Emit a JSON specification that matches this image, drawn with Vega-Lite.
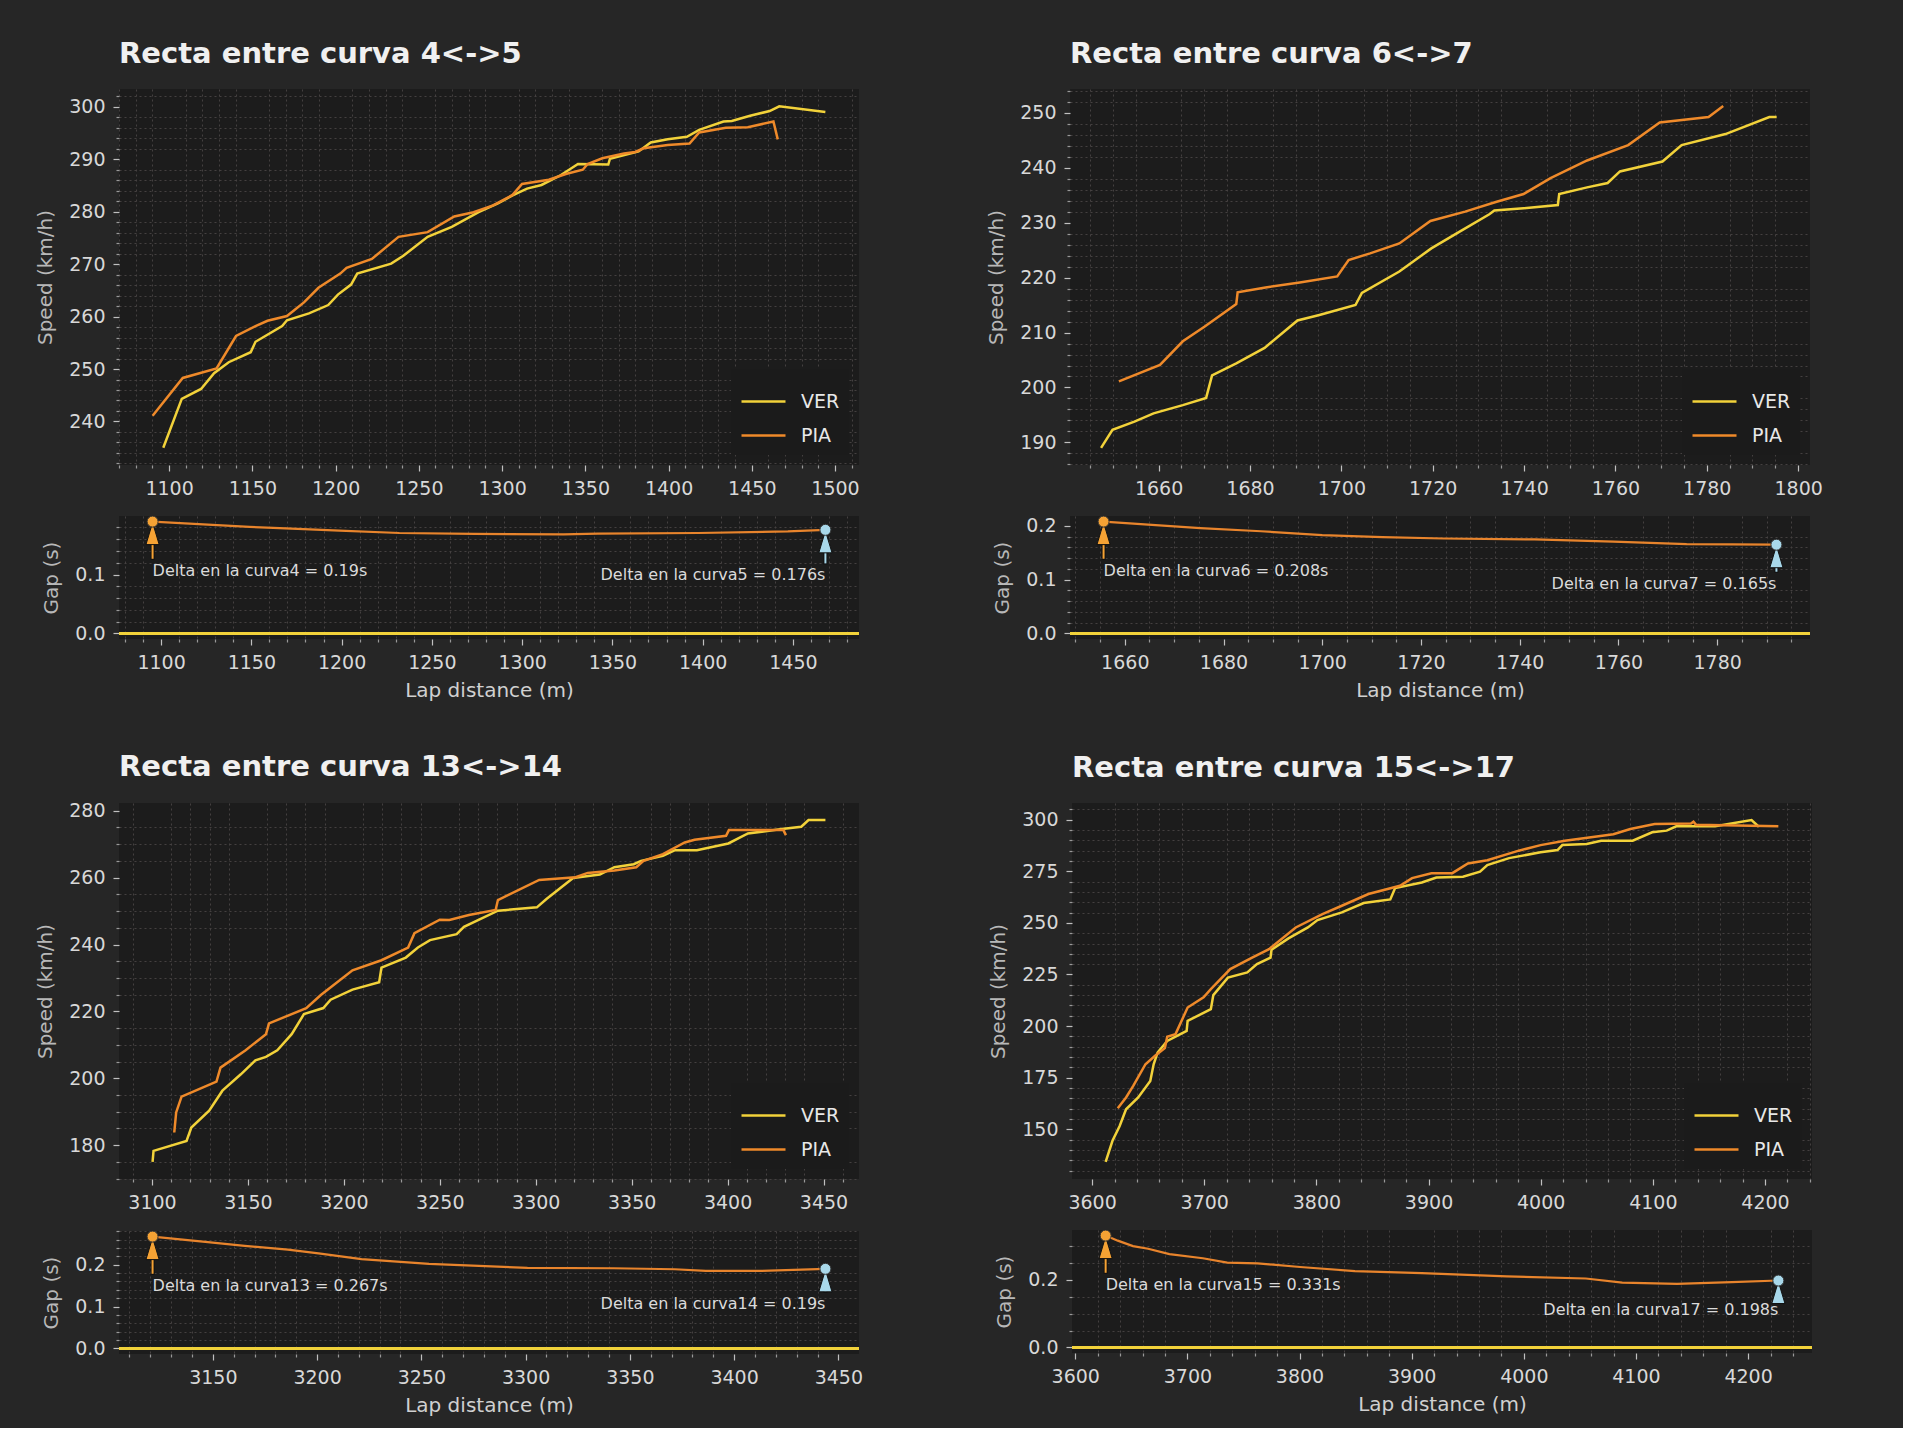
{
"$schema": "https://vega.github.io/schema/vega-lite/v6.json",
"background": "#262626",
"padding": {"left": 35, "top": 40, "right": 80, "bottom": 13},
"config": {
  "font": "DejaVu Sans",
  "view": {"fill": "#1c1c1c", "stroke": null},
  "title": {"font": "DejaVu Sans", "fontSize": 29, "fontWeight": "bold", "color": "#f0f0f0", "anchor": "start", "frame": "group", "offset": 20, "baseline": "alphabetic"},
  "axis": {"labelFont": "DejaVu Sans", "labelFontSize": 19, "labelColor": "#d8d8d8", "titleFont": "DejaVu Sans", "titleFontSize": 20, "titleFontWeight": "normal", "titleColor": "#b8b8b8", "domain": false, "grid": true, "gridColor": "#5a5555", "gridWidth": 1.5, "tickSize": 6, "tickColor": "#c0c0c0", "tickWidth": 1.2, "labelPadding": 8, "titlePadding": 13, "labelOverlap": false},
  "legend": {"orient": "bottom-right", "offset": 10, "padding": 9, "fillColor": "#1b1b1b", "labelFont": "DejaVu Sans", "labelFontSize": 19, "labelColor": "#e8e8e8", "symbolType": "stroke", "symbolStrokeWidth": 2.5, "symbolSize": 1936, "rowPadding": -15, "labelOffset": 14}
},
"datasets": {
  "z": [{"gap": 0}],
  "s1": [
    {"d":1096.5,"speed":235,"driver":"VER"},{"d":1107.6,"speed":244.3,"driver":"VER"},{"d":1119.2,"speed":246.2,"driver":"VER"},{"d":1127,"speed":249.2,"driver":"VER"},{"d":1135.8,"speed":251.3,"driver":"VER"},{"d":1149,"speed":253.2,"driver":"VER"},{"d":1151.9,"speed":255.2,"driver":"VER"},{"d":1167.9,"speed":258.2,"driver":"VER"},{"d":1170.8,"speed":259.3,"driver":"VER"},{"d":1184,"speed":260.6,"driver":"VER"},{"d":1195.6,"speed":262.2,"driver":"VER"},{"d":1201.4,"speed":264.2,"driver":"VER"},{"d":1209.3,"speed":266.1,"driver":"VER"},{"d":1213,"speed":268.2,"driver":"VER"},{"d":1233.4,"speed":270.1,"driver":"VER"},{"d":1240.7,"speed":271.6,"driver":"VER"},{"d":1255.3,"speed":275.2,"driver":"VER"},{"d":1269.8,"speed":277.1,"driver":"VER"},{"d":1285.9,"speed":279.9,"driver":"VER"},{"d":1297.5,"speed":281.6,"driver":"VER"},{"d":1306.3,"speed":283.1,"driver":"VER"},{"d":1315,"speed":284.4,"driver":"VER"},{"d":1323.7,"speed":285.1,"driver":"VER"},{"d":1335.4,"speed":287,"driver":"VER"},{"d":1345.6,"speed":289.1,"driver":"VER"},{"d":1363.8,"speed":289,"driver":"VER"},{"d":1364.8,"speed":290.1,"driver":"VER"},{"d":1382,"speed":291.5,"driver":"VER"},{"d":1389.3,"speed":293.2,"driver":"VER"},{"d":1399.5,"speed":293.8,"driver":"VER"},{"d":1411,"speed":294.3,"driver":"VER"},{"d":1418.4,"speed":295.6,"driver":"VER"},{"d":1433,"speed":297.2,"driver":"VER"},{"d":1438,"speed":297.3,"driver":"VER"},{"d":1449,"speed":298.3,"driver":"VER"},{"d":1460.7,"speed":299.2,"driver":"VER"},{"d":1466.5,"speed":300.1,"driver":"VER"},{"d":1494.2,"speed":299,"driver":"VER"},
    {"d":1090.1,"speed":241.1,"driver":"PIA"},{"d":1108.2,"speed":248.3,"driver":"PIA"},{"d":1128.5,"speed":250.1,"driver":"PIA"},{"d":1140.2,"speed":256.3,"driver":"PIA"},{"d":1151.9,"speed":258.2,"driver":"PIA"},{"d":1159.1,"speed":259.2,"driver":"PIA"},{"d":1170.8,"speed":260.1,"driver":"PIA"},{"d":1181,"speed":262.7,"driver":"PIA"},{"d":1189.7,"speed":265.5,"driver":"PIA"},{"d":1202.8,"speed":268.2,"driver":"PIA"},{"d":1206.6,"speed":269.3,"driver":"PIA"},{"d":1221.8,"speed":271,"driver":"PIA"},{"d":1237.8,"speed":275.2,"driver":"PIA"},{"d":1255.3,"speed":276.1,"driver":"PIA"},{"d":1271.3,"speed":279.1,"driver":"PIA"},{"d":1282.9,"speed":279.9,"driver":"PIA"},{"d":1294.6,"speed":281.2,"driver":"PIA"},{"d":1306.3,"speed":283.2,"driver":"PIA"},{"d":1312,"speed":285.3,"driver":"PIA"},{"d":1328.1,"speed":286.1,"driver":"PIA"},{"d":1338.3,"speed":287.2,"driver":"PIA"},{"d":1348.5,"speed":288,"driver":"PIA"},{"d":1351.4,"speed":289.1,"driver":"PIA"},{"d":1360.2,"speed":290.2,"driver":"PIA"},{"d":1373.3,"speed":291.1,"driver":"PIA"},{"d":1380,"speed":291.4,"driver":"PIA"},{"d":1385,"speed":292.1,"driver":"PIA"},{"d":1399.5,"speed":292.7,"driver":"PIA"},{"d":1412.6,"speed":293,"driver":"PIA"},{"d":1418.4,"speed":295.1,"driver":"PIA"},{"d":1434.4,"speed":296,"driver":"PIA"},{"d":1447.6,"speed":296.1,"driver":"PIA"},{"d":1463,"speed":297.2,"driver":"PIA"},{"d":1465.6,"speed":293.8,"driver":"PIA"}
  ],
  "s2": [
    {"d":1647.4,"speed":189,"driver":"VER"},{"d":1649.9,"speed":192.3,"driver":"VER"},{"d":1654.7,"speed":193.8,"driver":"VER"},{"d":1658.9,"speed":195.3,"driver":"VER"},{"d":1665.3,"speed":196.8,"driver":"VER"},{"d":1670.4,"speed":198.1,"driver":"VER"},{"d":1671.7,"speed":202.2,"driver":"VER"},{"d":1677,"speed":204.4,"driver":"VER"},{"d":1683.2,"speed":207.2,"driver":"VER"},{"d":1690.4,"speed":212.2,"driver":"VER"},{"d":1695.2,"speed":213.2,"driver":"VER"},{"d":1703.1,"speed":215,"driver":"VER"},{"d":1704.5,"speed":217.2,"driver":"VER"},{"d":1712.7,"speed":221.1,"driver":"VER"},{"d":1719.7,"speed":225.3,"driver":"VER"},{"d":1726,"speed":228.4,"driver":"VER"},{"d":1732.4,"speed":231.5,"driver":"VER"},{"d":1733.5,"speed":232.2,"driver":"VER"},{"d":1739.9,"speed":232.6,"driver":"VER"},{"d":1747.4,"speed":233.2,"driver":"VER"},{"d":1747.7,"speed":235.2,"driver":"VER"},{"d":1753.8,"speed":236.4,"driver":"VER"},{"d":1758.3,"speed":237.2,"driver":"VER"},{"d":1761,"speed":239.3,"driver":"VER"},{"d":1770.3,"speed":241.1,"driver":"VER"},{"d":1774.5,"speed":244.1,"driver":"VER"},{"d":1784.1,"speed":246.1,"driver":"VER"},{"d":1793.7,"speed":249.2,"driver":"VER"},{"d":1795.3,"speed":249.2,"driver":"VER"},
    {"d":1651.3,"speed":201.1,"driver":"PIA"},{"d":1660.3,"speed":204.1,"driver":"PIA"},{"d":1665.3,"speed":208.4,"driver":"PIA"},{"d":1670.1,"speed":211.1,"driver":"PIA"},{"d":1677,"speed":215.2,"driver":"PIA"},{"d":1677.3,"speed":217.3,"driver":"PIA"},{"d":1683.4,"speed":218.2,"driver":"PIA"},{"d":1690.9,"speed":219.1,"driver":"PIA"},{"d":1699.1,"speed":220.2,"driver":"PIA"},{"d":1701.6,"speed":223.2,"driver":"PIA"},{"d":1706.3,"speed":224.4,"driver":"PIA"},{"d":1712.7,"speed":226.2,"driver":"PIA"},{"d":1719.5,"speed":230.3,"driver":"PIA"},{"d":1727.1,"speed":232,"driver":"PIA"},{"d":1734,"speed":233.8,"driver":"PIA"},{"d":1739.9,"speed":235.2,"driver":"PIA"},{"d":1745.8,"speed":238.1,"driver":"PIA"},{"d":1753.8,"speed":241.3,"driver":"PIA"},{"d":1762.8,"speed":244.1,"driver":"PIA"},{"d":1769.7,"speed":248.2,"driver":"PIA"},{"d":1780.4,"speed":249.2,"driver":"PIA"},{"d":1783.6,"speed":251.2,"driver":"PIA"}
  ],
  "s3": [
    {"d":3100.3,"speed":175,"driver":"VER"},{"d":3100.8,"speed":178.3,"driver":"VER"},{"d":3118,"speed":181.3,"driver":"VER"},{"d":3120.5,"speed":185.3,"driver":"VER"},{"d":3129.8,"speed":190.3,"driver":"VER"},{"d":3136.7,"speed":196.3,"driver":"VER"},{"d":3146.3,"speed":201.2,"driver":"VER"},{"d":3153.9,"speed":205.4,"driver":"VER"},{"d":3159.4,"speed":206.4,"driver":"VER"},{"d":3165.3,"speed":208.4,"driver":"VER"},{"d":3172.8,"speed":213.2,"driver":"VER"},{"d":3179.2,"speed":219.2,"driver":"VER"},{"d":3189.3,"speed":221,"driver":"VER"},{"d":3193.1,"speed":223.5,"driver":"VER"},{"d":3204.5,"speed":226.5,"driver":"VER"},{"d":3218.4,"speed":228.7,"driver":"VER"},{"d":3219.6,"speed":233.1,"driver":"VER"},{"d":3232.3,"speed":236.1,"driver":"VER"},{"d":3238.6,"speed":239.1,"driver":"VER"},{"d":3244.9,"speed":241.3,"driver":"VER"},{"d":3258.8,"speed":243.1,"driver":"VER"},{"d":3262.6,"speed":245.3,"driver":"VER"},{"d":3280.3,"speed":250.1,"driver":"VER"},{"d":3300.6,"speed":251.1,"driver":"VER"},{"d":3305.6,"speed":253.6,"driver":"VER"},{"d":3319.5,"speed":259.9,"driver":"VER"},{"d":3333.4,"speed":260.9,"driver":"VER"},{"d":3341,"speed":263.1,"driver":"VER"},{"d":3351.1,"speed":264,"driver":"VER"},{"d":3354.9,"speed":265,"driver":"VER"},{"d":3366.3,"speed":266.5,"driver":"VER"},{"d":3372.6,"speed":268.2,"driver":"VER"},{"d":3384,"speed":268.2,"driver":"VER"},{"d":3400.4,"speed":270.2,"driver":"VER"},{"d":3410.6,"speed":273.2,"driver":"VER"},{"d":3428.3,"speed":274.5,"driver":"VER"},{"d":3438.4,"speed":275.2,"driver":"VER"},{"d":3442.2,"speed":277.2,"driver":"VER"},{"d":3451,"speed":277.2,"driver":"VER"},
    {"d":3111.6,"speed":183.8,"driver":"PIA"},{"d":3112.6,"speed":189.8,"driver":"PIA"},{"d":3115.4,"speed":194.5,"driver":"PIA"},{"d":3133.6,"speed":199,"driver":"PIA"},{"d":3135.7,"speed":203.2,"driver":"PIA"},{"d":3148.8,"speed":208.4,"driver":"PIA"},{"d":3159.4,"speed":213.2,"driver":"PIA"},{"d":3161,"speed":216.4,"driver":"PIA"},{"d":3180.4,"speed":221,"driver":"PIA"},{"d":3188,"speed":224.9,"driver":"PIA"},{"d":3204.5,"speed":232.3,"driver":"PIA"},{"d":3219.6,"speed":235.3,"driver":"PIA"},{"d":3233.5,"speed":239.1,"driver":"PIA"},{"d":3236.8,"speed":243.4,"driver":"PIA"},{"d":3250,"speed":247.4,"driver":"PIA"},{"d":3255,"speed":247.3,"driver":"PIA"},{"d":3265.2,"speed":248.8,"driver":"PIA"},{"d":3279.1,"speed":250.3,"driver":"PIA"},{"d":3280.3,"speed":253.3,"driver":"PIA"},{"d":3301.8,"speed":259.3,"driver":"PIA"},{"d":3320.8,"speed":260.1,"driver":"PIA"},{"d":3327.1,"speed":261.4,"driver":"PIA"},{"d":3341,"speed":262.1,"driver":"PIA"},{"d":3352.4,"speed":263.1,"driver":"PIA"},{"d":3356.2,"speed":265,"driver":"PIA"},{"d":3366.3,"speed":267,"driver":"PIA"},{"d":3377.7,"speed":270.5,"driver":"PIA"},{"d":3382.8,"speed":271.3,"driver":"PIA"},{"d":3399.2,"speed":272.5,"driver":"PIA"},{"d":3400.7,"speed":274.2,"driver":"PIA"},{"d":3429.1,"speed":274.2,"driver":"PIA"},{"d":3430.4,"speed":272.7,"driver":"PIA"}
  ],
  "s4": [
    {"d":3612.1,"speed":134.2,"driver":"VER"},{"d":3618.2,"speed":144.4,"driver":"VER"},{"d":3624.6,"speed":151.6,"driver":"VER"},{"d":3630.3,"speed":159.7,"driver":"VER"},{"d":3641.1,"speed":165.4,"driver":"VER"},{"d":3651.9,"speed":173.4,"driver":"VER"},{"d":3654.9,"speed":181.5,"driver":"VER"},{"d":3658.4,"speed":187.2,"driver":"VER"},{"d":3667,"speed":192.8,"driver":"VER"},{"d":3684.3,"speed":197.7,"driver":"VER"},{"d":3685.2,"speed":202.5,"driver":"VER"},{"d":3705.9,"speed":208.2,"driver":"VER"},{"d":3708.1,"speed":215,"driver":"VER"},{"d":3721.1,"speed":223.5,"driver":"VER"},{"d":3738.4,"speed":226,"driver":"VER"},{"d":3747,"speed":230,"driver":"VER"},{"d":3759.1,"speed":233.2,"driver":"VER"},{"d":3760,"speed":237,"driver":"VER"},{"d":3775.1,"speed":242.5,"driver":"VER"},{"d":3792.4,"speed":247.8,"driver":"VER"},{"d":3801,"speed":251.4,"driver":"VER"},{"d":3822.7,"speed":255.1,"driver":"VER"},{"d":3842.2,"speed":259.6,"driver":"VER"},{"d":3865.9,"speed":261.4,"driver":"VER"},{"d":3870.2,"speed":266.9,"driver":"VER"},{"d":3894,"speed":269.6,"driver":"VER"},{"d":3907,"speed":272,"driver":"VER"},{"d":3930.7,"speed":272.4,"driver":"VER"},{"d":3945.9,"speed":274.8,"driver":"VER"},{"d":3952.4,"speed":278,"driver":"VER"},{"d":3971.8,"speed":281.4,"driver":"VER"},{"d":3999.9,"speed":284.2,"driver":"VER"},{"d":4015,"speed":285.3,"driver":"VER"},{"d":4019.3,"speed":287.7,"driver":"VER"},{"d":4041,"speed":288.2,"driver":"VER"},{"d":4053.9,"speed":289.8,"driver":"VER"},{"d":4082,"speed":289.8,"driver":"VER"},{"d":4099.4,"speed":293.9,"driver":"VER"},{"d":4112.3,"speed":294.7,"driver":"VER"},{"d":4120.9,"speed":296.8,"driver":"VER"},{"d":4155.5,"speed":296.8,"driver":"VER"},{"d":4188,"speed":299.8,"driver":"VER"},{"d":4194.5,"speed":296.6,"driver":"VER"},
    {"d":3622.9,"speed":160.2,"driver":"PIA"},{"d":3630.3,"speed":165.4,"driver":"PIA"},{"d":3636.7,"speed":171,"driver":"PIA"},{"d":3647.6,"speed":181.5,"driver":"PIA"},{"d":3656.2,"speed":185.6,"driver":"PIA"},{"d":3664.9,"speed":189.3,"driver":"PIA"},{"d":3667,"speed":194.8,"driver":"PIA"},{"d":3674.4,"speed":196.1,"driver":"PIA"},{"d":3685.2,"speed":209,"driver":"PIA"},{"d":3699.4,"speed":213.9,"driver":"PIA"},{"d":3705.9,"speed":217.9,"driver":"PIA"},{"d":3723.2,"speed":227.6,"driver":"PIA"},{"d":3742.7,"speed":233.2,"driver":"PIA"},{"d":3757.8,"speed":237.3,"driver":"PIA"},{"d":3781.6,"speed":247.8,"driver":"PIA"},{"d":3805.4,"speed":254.3,"driver":"PIA"},{"d":3822.7,"speed":258.3,"driver":"PIA"},{"d":3846.4,"speed":264,"driver":"PIA"},{"d":3874.5,"speed":268,"driver":"PIA"},{"d":3885.3,"speed":271.7,"driver":"PIA"},{"d":3902.6,"speed":274.1,"driver":"PIA"},{"d":3921.2,"speed":274.1,"driver":"PIA"},{"d":3935.1,"speed":278.8,"driver":"PIA"},{"d":3952.4,"speed":280.4,"driver":"PIA"},{"d":3980.5,"speed":285,"driver":"PIA"},{"d":3999.9,"speed":287.7,"driver":"PIA"},{"d":4021.5,"speed":289.8,"driver":"PIA"},{"d":4043.2,"speed":291.4,"driver":"PIA"},{"d":4064.8,"speed":293,"driver":"PIA"},{"d":4079.9,"speed":295.5,"driver":"PIA"},{"d":4101.6,"speed":297.9,"driver":"PIA"},{"d":4134,"speed":298.2,"driver":"PIA"},{"d":4136.2,"speed":299,"driver":"PIA"},{"d":4138.4,"speed":297.6,"driver":"PIA"},{"d":4211.9,"speed":296.8,"driver":"PIA"}
  ],
  "g1": [{"d":1095.3,"gap":0.19},{"d":1149,"gap":0.181},{"d":1165.7,"gap":0.179},{"d":1198.8,"gap":0.1746},{"d":1232,"gap":0.1706},{"d":1273.3,"gap":0.169},{"d":1323,"gap":0.1684},{"d":1342,"gap":0.1695},{"d":1397.5,"gap":0.1706},{"d":1447.2,"gap":0.1734},{"d":1468,"gap":0.176}],
  "g2": [{"d":1655.7,"gap":0.208},{"d":1675.3,"gap":0.196},{"d":1687.6,"gap":0.19},{"d":1700,"gap":0.183},{"d":1712.2,"gap":0.179},{"d":1724.6,"gap":0.1765},{"d":1743,"gap":0.1748},{"d":1759,"gap":0.1706},{"d":1773.8,"gap":0.166},{"d":1792,"gap":0.165}],
  "g3": [{"d":3121.1,"gap":0.267},{"d":3147.6,"gap":0.254},{"d":3165.3,"gap":0.245},{"d":3186,"gap":0.2357},{"d":3200.7,"gap":0.227},{"d":3221.3,"gap":0.213},{"d":3253.7,"gap":0.202},{"d":3300.9,"gap":0.1924},{"d":3342.2,"gap":0.1914},{"d":3371.6,"gap":0.189},{"d":3386.4,"gap":0.185},{"d":3412.9,"gap":0.185},{"d":3443.8,"gap":0.19}],
  "g4": [{"d":3627.1,"gap":0.331},{"d":3637.9,"gap":0.316},{"d":3651.5,"gap":0.3},{"d":3665,"gap":0.292},{"d":3684,"gap":0.276},{"d":3713.8,"gap":0.264},{"d":3735.5,"gap":0.251},{"d":3762.6,"gap":0.249},{"d":3800.5,"gap":0.238},{"d":3849.3,"gap":0.226},{"d":3909,"gap":0.22},{"d":3984.8,"gap":0.2105},{"d":4055.3,"gap":0.204},{"d":4087.8,"gap":0.192},{"d":4136.6,"gap":0.188},{"d":4185.4,"gap":0.193},{"d":4227,"gap":0.198}],
  "a1": [{"d":1095.3,"gap":0.19,"kind":"start","label":"Delta en la curva4 = 0.19s"},{"d":1468,"gap":0.176,"kind":"end","label":"Delta en la curva5 = 0.176s"}],
  "a2": [{"d":1655.7,"gap":0.208,"kind":"start","label":"Delta en la curva6 = 0.208s"},{"d":1792,"gap":0.165,"kind":"end","label":"Delta en la curva7 = 0.165s"}],
  "a3": [{"d":3121.1,"gap":0.267,"kind":"start","label":"Delta en la curva13 = 0.267s"},{"d":3443.8,"gap":0.19,"kind":"end","label":"Delta en la curva14 = 0.19s"}],
  "a4": [{"d":3627.1,"gap":0.331,"kind":"start","label":"Delta en la curva15 = 0.331s"},{"d":4227,"gap":0.198,"kind":"end","label":"Delta en la curva17 = 0.198s"}]
},
"spacing": 52,
"resolve": {"scale": {"color": "independent"}, "legend": {"color": "independent"}},
"vconcat": [
{"hconcat": [
 {"vconcat": [
  {"title": "Recta entre curva 4<->5", "width": 740, "height": 376, "data": {"name": "s1"},
   "layer": [
    {"mark": {"type": "point", "opacity": 0},
     "encoding": {
      "x": {"field": "d", "type": "quantitative", "scale": {"domain": [1069.9, 1514.4], "nice": false, "zero": false}, "axis": {"orient": "bottom", "values": [1070,1080,1090,1110,1120,1130,1140,1160,1170,1180,1190,1210,1220,1230,1240,1260,1270,1280,1290,1310,1320,1330,1340,1360,1370,1380,1390,1410,1420,1430,1440,1460,1470,1480,1490,1510], "gridDash": [2,3], "gridColor": "#444040", "gridWidth": 1, "tickSize": 3, "tickColor": "#999999", "labels": false, "title": null}},
      "y": {"field": "speed", "type": "quantitative", "scale": {"domain": [231.7, 303.4], "nice": false, "zero": false}, "axis": {"orient": "left", "values": [232,234,236,238,242,244,246,248,252,254,256,258,262,264,266,268,272,274,276,278,282,284,286,288,292,294,296,298,302], "gridDash": [2,3], "gridColor": "#444040", "gridWidth": 1, "tickSize": 3, "tickColor": "#999999", "labels": false, "title": null}}
     }},
    {"mark": {"type": "line", "strokeWidth": 2.5},
     "encoding": {
      "x": {"field": "d", "type": "quantitative", "scale": {"domain": [1069.9, 1514.4], "nice": false, "zero": false}, "axis": {"orient": "bottom", "values": [1100,1150,1200,1250,1300,1350,1400,1450,1500], "format": "d", "title": null}},
      "y": {"field": "speed", "type": "quantitative", "scale": {"domain": [231.7, 303.4], "nice": false, "zero": false}, "axis": {"orient": "left", "values": [240,250,260,270,280,290,300], "format": "d", "title": "Speed (km/h)"}},
      "color": {"field": "driver", "type": "nominal", "scale": {"domain": ["VER","PIA"], "range": ["#f2d23a","#ef8a2a"]}, "legend": {"title": null}}
     }}
   ],
   "resolve": {"axis": {"x": "independent", "y": "independent"}}},
  {"width": 740, "height": 123,
   "layer": [
    {"data": {"name": "g1"}, "mark": {"type": "line", "color": "#e8842c", "strokeWidth": 2.2},
     "encoding": {
      "x": {"field": "d", "type": "quantitative", "scale": {"domain": [1076.7, 1486.6], "nice": false, "zero": false}, "axis": {"orient": "bottom", "values": [1080,1090,1110,1120,1130,1140,1160,1170,1180,1190,1210,1220,1230,1240,1260,1270,1280,1290,1310,1320,1330,1340,1360,1370,1380,1390,1410,1420,1430,1440,1460,1470,1480], "gridDash": [2,3], "gridColor": "#444040", "gridWidth": 1, "tickSize": 3, "tickColor": "#999999", "labels": false, "title": null}},
      "y": {"field": "gap", "type": "quantitative", "scale": {"domain": [-0.0095, 0.1995], "nice": false, "zero": false}, "axis": {"orient": "left", "values": [0.02,0.04,0.06,0.08,0.12,0.14,0.16,0.18], "gridDash": [2,3], "gridColor": "#444040", "gridWidth": 1, "tickSize": 3, "tickColor": "#999999", "labels": false, "title": null}}
     }},
    {"data": {"name": "z"}, "mark": {"type": "rule", "color": "#f2d23a", "strokeWidth": 3},
     "encoding": {"y": {"field": "gap", "type": "quantitative", "scale": {"domain": [-0.0095, 0.1995], "nice": false, "zero": false}, "axis": {"orient": "left", "values": [0, 0.1], "format": ".1f", "title": "Gap (s)"}}}},
    {"data": {"name": "a1"}, "transform": [{"calculate": "datum.gap * 0.56", "as": "ty"}],
     "mark": {"type": "rule", "color": "#111111", "strokeWidth": 4, "yOffset": 16, "y2Offset": -11},
     "encoding": {
      "x": {"field": "d", "type": "quantitative", "scale": {"domain": [1076.7, 1486.6], "nice": false, "zero": false}, "axis": {"orient": "bottom", "values": [1100,1150,1200,1250,1300,1350,1400,1450], "format": "d", "title": "Lap distance (m)", "titlePadding": 8, "titleColor": "#d0d0d0"}},
      "y": {"field": "gap", "type": "quantitative", "scale": {"domain": [-0.0095, 0.1995], "nice": false, "zero": false}, "axis": null},
      "y2": {"field": "ty"}
     }},
    {"data": {"name": "a1"}, "transform": [{"calculate": "datum.gap * 0.56", "as": "ty"}],
     "mark": {"type": "rule", "strokeWidth": 2, "yOffset": 16, "y2Offset": -12},
     "encoding": {
      "x": {"field": "d", "type": "quantitative", "scale": {"domain": [1076.7, 1486.6], "nice": false, "zero": false}, "axis": null},
      "y": {"field": "gap", "type": "quantitative", "scale": {"domain": [-0.0095, 0.1995], "nice": false, "zero": false}, "axis": null},
      "y2": {"field": "ty"},
      "color": {"condition": {"test": "datum.kind == 'start'", "value": "#f5a234"}, "value": "#a8d8ea"}
     }},
    {"data": {"name": "a1"},
     "mark": {"type": "point", "shape": "M0,-1L0.6,1L-0.6,1Z", "size": 484, "filled": true, "opacity": 1, "stroke": "#111111", "strokeWidth": 1, "yOffset": 12},
     "encoding": {
      "x": {"field": "d", "type": "quantitative", "scale": {"domain": [1076.7, 1486.6], "nice": false, "zero": false}, "axis": null},
      "y": {"field": "gap", "type": "quantitative", "scale": {"domain": [-0.0095, 0.1995], "nice": false, "zero": false}, "axis": null},
      "color": {"condition": {"test": "datum.kind == 'start'", "value": "#f5a234"}, "value": "#a8d8ea"}
     }},
    {"data": {"name": "a1"},
     "mark": {"type": "point", "shape": "circle", "size": 121, "filled": true, "opacity": 1, "stroke": "#333333", "strokeWidth": 1, "clip": true},
     "encoding": {
      "x": {"field": "d", "type": "quantitative", "scale": {"domain": [1076.7, 1486.6], "nice": false, "zero": false}, "axis": null},
      "y": {"field": "gap", "type": "quantitative", "scale": {"domain": [-0.0095, 0.1995], "nice": false, "zero": false}, "axis": null},
      "color": {"condition": {"test": "datum.kind == 'start'", "value": "#f5a234"}, "value": "#a8d8ea"}
     }},
    {"data": {"name": "a1"}, "transform": [{"filter": "datum.kind == 'start'"}, {"calculate": "datum.gap * 0.56", "as": "ty"}],
     "mark": {"type": "text", "align": "left", "baseline": "middle", "fontSize": 16, "color": "#dadada"},
     "encoding": {
      "x": {"field": "d", "type": "quantitative", "scale": {"domain": [1076.7, 1486.6], "nice": false, "zero": false}, "axis": null},
      "y": {"field": "ty", "type": "quantitative", "scale": {"domain": [-0.0095, 0.1995], "nice": false, "zero": false}, "axis": null},
      "text": {"field": "label"}
     }},
    {"data": {"name": "a1"}, "transform": [{"filter": "datum.kind == 'end'"}, {"calculate": "datum.gap * 0.56", "as": "ty"}],
     "mark": {"type": "text", "align": "right", "baseline": "middle", "fontSize": 16, "color": "#dadada"},
     "encoding": {
      "x": {"field": "d", "type": "quantitative", "scale": {"domain": [1076.7, 1486.6], "nice": false, "zero": false}, "axis": null},
      "y": {"field": "ty", "type": "quantitative", "scale": {"domain": [-0.0095, 0.1995], "nice": false, "zero": false}, "axis": null},
      "text": {"field": "label"}
     }}
   ],
   "resolve": {"axis": {"x": "independent", "y": "independent"}}}
 ], "spacing": 18, "resolve": {"scale": {"color": "independent"}, "legend": {"color": "independent"}}},
 {"vconcat": [
  {"title": "Recta entre curva 6<->7", "width": 740, "height": 376, "data": {"name": "s2"},
   "layer": [
    {"mark": {"type": "point", "opacity": 0},
     "encoding": {
      "x": {"field": "d", "type": "quantitative", "scale": {"domain": [1640.6, 1802.6], "nice": false, "zero": false}, "axis": {"orient": "bottom", "values": [1645,1650,1655,1665,1670,1675,1685,1690,1695,1705,1710,1715,1725,1730,1735,1745,1750,1755,1765,1770,1775,1785,1790,1795], "gridDash": [2,3], "gridColor": "#444040", "gridWidth": 1, "tickSize": 3, "tickColor": "#999999", "labels": false, "title": null}},
      "y": {"field": "speed", "type": "quantitative", "scale": {"domain": [185.9, 254.3], "nice": false, "zero": false}, "axis": {"orient": "left", "values": [186,188,192,194,196,198,202,204,206,208,212,214,216,218,222,224,226,228,232,234,236,238,242,244,246,248,252,254], "gridDash": [2,3], "gridColor": "#444040", "gridWidth": 1, "tickSize": 3, "tickColor": "#999999", "labels": false, "title": null}}
     }},
    {"mark": {"type": "line", "strokeWidth": 2.5},
     "encoding": {
      "x": {"field": "d", "type": "quantitative", "scale": {"domain": [1640.6, 1802.6], "nice": false, "zero": false}, "axis": {"orient": "bottom", "values": [1660,1680,1700,1720,1740,1760,1780,1800], "format": "d", "title": null}},
      "y": {"field": "speed", "type": "quantitative", "scale": {"domain": [185.9, 254.3], "nice": false, "zero": false}, "axis": {"orient": "left", "values": [190,200,210,220,230,240,250], "format": "d", "title": "Speed (km/h)"}},
      "color": {"field": "driver", "type": "nominal", "scale": {"domain": ["VER","PIA"], "range": ["#f2d23a","#ef8a2a"]}, "legend": {"title": null}}
     }}
   ],
   "resolve": {"axis": {"x": "independent", "y": "independent"}}},
  {"width": 740, "height": 123,
   "layer": [
    {"data": {"name": "g2"}, "mark": {"type": "line", "color": "#e8842c", "strokeWidth": 2.2},
     "encoding": {
      "x": {"field": "d", "type": "quantitative", "scale": {"domain": [1648.9, 1798.8], "nice": false, "zero": false}, "axis": {"orient": "bottom", "values": [1650,1655,1665,1670,1675,1685,1690,1695,1705,1710,1715,1725,1730,1735,1745,1750,1755,1765,1770,1775,1785,1790,1795], "gridDash": [2,3], "gridColor": "#444040", "gridWidth": 1, "tickSize": 3, "tickColor": "#999999", "labels": false, "title": null}},
      "y": {"field": "gap", "type": "quantitative", "scale": {"domain": [-0.0104, 0.2184], "nice": false, "zero": false}, "axis": {"orient": "left", "values": [0.02,0.04,0.06,0.08,0.12,0.14,0.16,0.18], "gridDash": [2,3], "gridColor": "#444040", "gridWidth": 1, "tickSize": 3, "tickColor": "#999999", "labels": false, "title": null}}
     }},
    {"data": {"name": "z"}, "mark": {"type": "rule", "color": "#f2d23a", "strokeWidth": 3},
     "encoding": {"y": {"field": "gap", "type": "quantitative", "scale": {"domain": [-0.0104, 0.2184], "nice": false, "zero": false}, "axis": {"orient": "left", "values": [0, 0.1, 0.2], "format": ".1f", "title": "Gap (s)"}}}},
    {"data": {"name": "a2"}, "transform": [{"calculate": "datum.gap * 0.56", "as": "ty"}],
     "mark": {"type": "rule", "color": "#111111", "strokeWidth": 4, "yOffset": 16, "y2Offset": -11},
     "encoding": {
      "x": {"field": "d", "type": "quantitative", "scale": {"domain": [1648.9, 1798.8], "nice": false, "zero": false}, "axis": {"orient": "bottom", "values": [1660,1680,1700,1720,1740,1760,1780], "format": "d", "title": "Lap distance (m)", "titlePadding": 8, "titleColor": "#d0d0d0"}},
      "y": {"field": "gap", "type": "quantitative", "scale": {"domain": [-0.0104, 0.2184], "nice": false, "zero": false}, "axis": null},
      "y2": {"field": "ty"}
     }},
    {"data": {"name": "a2"}, "transform": [{"calculate": "datum.gap * 0.56", "as": "ty"}],
     "mark": {"type": "rule", "strokeWidth": 2, "yOffset": 16, "y2Offset": -12},
     "encoding": {
      "x": {"field": "d", "type": "quantitative", "scale": {"domain": [1648.9, 1798.8], "nice": false, "zero": false}, "axis": null},
      "y": {"field": "gap", "type": "quantitative", "scale": {"domain": [-0.0104, 0.2184], "nice": false, "zero": false}, "axis": null},
      "y2": {"field": "ty"},
      "color": {"condition": {"test": "datum.kind == 'start'", "value": "#f5a234"}, "value": "#a8d8ea"}
     }},
    {"data": {"name": "a2"},
     "mark": {"type": "point", "shape": "M0,-1L0.6,1L-0.6,1Z", "size": 484, "filled": true, "opacity": 1, "stroke": "#111111", "strokeWidth": 1, "yOffset": 12},
     "encoding": {
      "x": {"field": "d", "type": "quantitative", "scale": {"domain": [1648.9, 1798.8], "nice": false, "zero": false}, "axis": null},
      "y": {"field": "gap", "type": "quantitative", "scale": {"domain": [-0.0104, 0.2184], "nice": false, "zero": false}, "axis": null},
      "color": {"condition": {"test": "datum.kind == 'start'", "value": "#f5a234"}, "value": "#a8d8ea"}
     }},
    {"data": {"name": "a2"},
     "mark": {"type": "point", "shape": "circle", "size": 121, "filled": true, "opacity": 1, "stroke": "#333333", "strokeWidth": 1, "clip": true},
     "encoding": {
      "x": {"field": "d", "type": "quantitative", "scale": {"domain": [1648.9, 1798.8], "nice": false, "zero": false}, "axis": null},
      "y": {"field": "gap", "type": "quantitative", "scale": {"domain": [-0.0104, 0.2184], "nice": false, "zero": false}, "axis": null},
      "color": {"condition": {"test": "datum.kind == 'start'", "value": "#f5a234"}, "value": "#a8d8ea"}
     }},
    {"data": {"name": "a2"}, "transform": [{"filter": "datum.kind == 'start'"}, {"calculate": "datum.gap * 0.56", "as": "ty"}],
     "mark": {"type": "text", "align": "left", "baseline": "middle", "fontSize": 16, "color": "#dadada"},
     "encoding": {
      "x": {"field": "d", "type": "quantitative", "scale": {"domain": [1648.9, 1798.8], "nice": false, "zero": false}, "axis": null},
      "y": {"field": "ty", "type": "quantitative", "scale": {"domain": [-0.0104, 0.2184], "nice": false, "zero": false}, "axis": null},
      "text": {"field": "label"}
     }},
    {"data": {"name": "a2"}, "transform": [{"filter": "datum.kind == 'end'"}, {"calculate": "datum.gap * 0.56", "as": "ty"}],
     "mark": {"type": "text", "align": "right", "baseline": "middle", "fontSize": 16, "color": "#dadada"},
     "encoding": {
      "x": {"field": "d", "type": "quantitative", "scale": {"domain": [1648.9, 1798.8], "nice": false, "zero": false}, "axis": null},
      "y": {"field": "ty", "type": "quantitative", "scale": {"domain": [-0.0104, 0.2184], "nice": false, "zero": false}, "axis": null},
      "text": {"field": "label"}
     }}
   ],
   "resolve": {"axis": {"x": "independent", "y": "independent"}}}
 ], "spacing": 18, "resolve": {"scale": {"color": "independent"}, "legend": {"color": "independent"}}}
], "spacing": 125, "resolve": {"scale": {"color": "independent"}, "legend": {"color": "independent"}}},
{"hconcat": [
 {"vconcat": [
  {"title": "Recta entre curva 13<->14", "width": 740, "height": 376, "data": {"name": "s3"},
   "layer": [
    {"mark": {"type": "point", "opacity": 0},
     "encoding": {
      "x": {"field": "d", "type": "quantitative", "scale": {"domain": [3082.8, 3468.5], "nice": false, "zero": false}, "axis": {"orient": "bottom", "values": [3090,3110,3120,3130,3140,3160,3170,3180,3190,3210,3220,3230,3240,3260,3270,3280,3290,3310,3320,3330,3340,3360,3370,3380,3390,3410,3420,3430,3440,3460], "gridDash": [2,3], "gridColor": "#444040", "gridWidth": 1, "tickSize": 3, "tickColor": "#999999", "labels": false, "title": null}},
      "y": {"field": "speed", "type": "quantitative", "scale": {"domain": [169.9, 282.3], "nice": false, "zero": false}, "axis": {"orient": "left", "values": [170,175,185,190,195,205,210,215,225,230,235,245,250,255,265,270,275], "gridDash": [2,3], "gridColor": "#444040", "gridWidth": 1, "tickSize": 3, "tickColor": "#999999", "labels": false, "title": null}}
     }},
    {"mark": {"type": "line", "strokeWidth": 2.5},
     "encoding": {
      "x": {"field": "d", "type": "quantitative", "scale": {"domain": [3082.8, 3468.5], "nice": false, "zero": false}, "axis": {"orient": "bottom", "values": [3100,3150,3200,3250,3300,3350,3400,3450], "format": "d", "title": null}},
      "y": {"field": "speed", "type": "quantitative", "scale": {"domain": [169.9, 282.3], "nice": false, "zero": false}, "axis": {"orient": "left", "values": [180,200,220,240,260,280], "format": "d", "title": "Speed (km/h)"}},
      "color": {"field": "driver", "type": "nominal", "scale": {"domain": ["VER","PIA"], "range": ["#f2d23a","#ef8a2a"]}, "legend": {"title": null}}
     }}
   ],
   "resolve": {"axis": {"x": "independent", "y": "independent"}}},
  {"width": 740, "height": 123,
   "layer": [
    {"data": {"name": "g3"}, "mark": {"type": "line", "color": "#e8842c", "strokeWidth": 2.2},
     "encoding": {
      "x": {"field": "d", "type": "quantitative", "scale": {"domain": [3105, 3459.9], "nice": false, "zero": false}, "axis": {"orient": "bottom", "values": [3110,3120,3130,3140,3160,3170,3180,3190,3210,3220,3230,3240,3260,3270,3280,3290,3310,3320,3330,3340,3360,3370,3380,3390,3410,3420,3430,3440], "gridDash": [2,3], "gridColor": "#444040", "gridWidth": 1, "tickSize": 3, "tickColor": "#999999", "labels": false, "title": null}},
      "y": {"field": "gap", "type": "quantitative", "scale": {"domain": [-0.01335, 0.28035], "nice": false, "zero": false}, "axis": {"orient": "left", "values": [0.02,0.04,0.06,0.08,0.12,0.14,0.16,0.18,0.22,0.24,0.26,0.28], "gridDash": [2,3], "gridColor": "#444040", "gridWidth": 1, "tickSize": 3, "tickColor": "#999999", "labels": false, "title": null}}
     }},
    {"data": {"name": "z"}, "mark": {"type": "rule", "color": "#f2d23a", "strokeWidth": 3},
     "encoding": {"y": {"field": "gap", "type": "quantitative", "scale": {"domain": [-0.01335, 0.28035], "nice": false, "zero": false}, "axis": {"orient": "left", "values": [0, 0.1, 0.2], "format": ".1f", "title": "Gap (s)"}}}},
    {"data": {"name": "a3"}, "transform": [{"calculate": "datum.gap * 0.56", "as": "ty"}],
     "mark": {"type": "rule", "color": "#111111", "strokeWidth": 4, "yOffset": 16, "y2Offset": -11},
     "encoding": {
      "x": {"field": "d", "type": "quantitative", "scale": {"domain": [3105, 3459.9], "nice": false, "zero": false}, "axis": {"orient": "bottom", "values": [3150,3200,3250,3300,3350,3400,3450], "format": "d", "title": "Lap distance (m)", "titlePadding": 8, "titleColor": "#d0d0d0"}},
      "y": {"field": "gap", "type": "quantitative", "scale": {"domain": [-0.01335, 0.28035], "nice": false, "zero": false}, "axis": null},
      "y2": {"field": "ty"}
     }},
    {"data": {"name": "a3"}, "transform": [{"calculate": "datum.gap * 0.56", "as": "ty"}],
     "mark": {"type": "rule", "strokeWidth": 2, "yOffset": 16, "y2Offset": -12},
     "encoding": {
      "x": {"field": "d", "type": "quantitative", "scale": {"domain": [3105, 3459.9], "nice": false, "zero": false}, "axis": null},
      "y": {"field": "gap", "type": "quantitative", "scale": {"domain": [-0.01335, 0.28035], "nice": false, "zero": false}, "axis": null},
      "y2": {"field": "ty"},
      "color": {"condition": {"test": "datum.kind == 'start'", "value": "#f5a234"}, "value": "#a8d8ea"}
     }},
    {"data": {"name": "a3"},
     "mark": {"type": "point", "shape": "M0,-1L0.6,1L-0.6,1Z", "size": 484, "filled": true, "opacity": 1, "stroke": "#111111", "strokeWidth": 1, "yOffset": 12},
     "encoding": {
      "x": {"field": "d", "type": "quantitative", "scale": {"domain": [3105, 3459.9], "nice": false, "zero": false}, "axis": null},
      "y": {"field": "gap", "type": "quantitative", "scale": {"domain": [-0.01335, 0.28035], "nice": false, "zero": false}, "axis": null},
      "color": {"condition": {"test": "datum.kind == 'start'", "value": "#f5a234"}, "value": "#a8d8ea"}
     }},
    {"data": {"name": "a3"},
     "mark": {"type": "point", "shape": "circle", "size": 121, "filled": true, "opacity": 1, "stroke": "#333333", "strokeWidth": 1, "clip": true},
     "encoding": {
      "x": {"field": "d", "type": "quantitative", "scale": {"domain": [3105, 3459.9], "nice": false, "zero": false}, "axis": null},
      "y": {"field": "gap", "type": "quantitative", "scale": {"domain": [-0.01335, 0.28035], "nice": false, "zero": false}, "axis": null},
      "color": {"condition": {"test": "datum.kind == 'start'", "value": "#f5a234"}, "value": "#a8d8ea"}
     }},
    {"data": {"name": "a3"}, "transform": [{"filter": "datum.kind == 'start'"}, {"calculate": "datum.gap * 0.56", "as": "ty"}],
     "mark": {"type": "text", "align": "left", "baseline": "middle", "fontSize": 16, "color": "#dadada"},
     "encoding": {
      "x": {"field": "d", "type": "quantitative", "scale": {"domain": [3105, 3459.9], "nice": false, "zero": false}, "axis": null},
      "y": {"field": "ty", "type": "quantitative", "scale": {"domain": [-0.01335, 0.28035], "nice": false, "zero": false}, "axis": null},
      "text": {"field": "label"}
     }},
    {"data": {"name": "a3"}, "transform": [{"filter": "datum.kind == 'end'"}, {"calculate": "datum.gap * 0.56", "as": "ty"}],
     "mark": {"type": "text", "align": "right", "baseline": "middle", "fontSize": 16, "color": "#dadada"},
     "encoding": {
      "x": {"field": "d", "type": "quantitative", "scale": {"domain": [3105, 3459.9], "nice": false, "zero": false}, "axis": null},
      "y": {"field": "ty", "type": "quantitative", "scale": {"domain": [-0.01335, 0.28035], "nice": false, "zero": false}, "axis": null},
      "text": {"field": "label"}
     }}
   ],
   "resolve": {"axis": {"x": "independent", "y": "independent"}}}
 ], "spacing": 18, "resolve": {"scale": {"color": "independent"}, "legend": {"color": "independent"}}},
 {"vconcat": [
  {"title": "Recta entre curva 15<->17", "width": 740, "height": 376, "data": {"name": "s4"},
   "layer": [
    {"mark": {"type": "point", "opacity": 0},
     "encoding": {
      "x": {"field": "d", "type": "quantitative", "scale": {"domain": [3582.1, 4241.9], "nice": false, "zero": false}, "axis": {"orient": "bottom", "values": [3620,3640,3660,3680,3720,3740,3760,3780,3820,3840,3860,3880,3920,3940,3960,3980,4020,4040,4060,4080,4120,4140,4160,4180,4220,4240], "gridDash": [2,3], "gridColor": "#444040", "gridWidth": 1, "tickSize": 3, "tickColor": "#999999", "labels": false, "title": null}},
      "y": {"field": "speed", "type": "quantitative", "scale": {"domain": [125.9, 308.1], "nice": false, "zero": false}, "axis": {"orient": "left", "values": [130,135,140,145,155,160,165,170,180,185,190,195,205,210,215,220,230,235,240,245,255,260,265,270,280,285,290,295,305], "gridDash": [2,3], "gridColor": "#444040", "gridWidth": 1, "tickSize": 3, "tickColor": "#999999", "labels": false, "title": null}}
     }},
    {"mark": {"type": "line", "strokeWidth": 2.5},
     "encoding": {
      "x": {"field": "d", "type": "quantitative", "scale": {"domain": [3582.1, 4241.9], "nice": false, "zero": false}, "axis": {"orient": "bottom", "values": [3600,3700,3800,3900,4000,4100,4200], "format": "d", "title": null}},
      "y": {"field": "speed", "type": "quantitative", "scale": {"domain": [125.9, 308.1], "nice": false, "zero": false}, "axis": {"orient": "left", "values": [150,175,200,225,250,275,300], "format": "d", "title": "Speed (km/h)"}},
      "color": {"field": "driver", "type": "nominal", "scale": {"domain": ["VER","PIA"], "range": ["#f2d23a","#ef8a2a"]}, "legend": {"title": null}}
     }}
   ],
   "resolve": {"axis": {"x": "independent", "y": "independent"}}},
  {"width": 740, "height": 123,
   "layer": [
    {"data": {"name": "g4"}, "mark": {"type": "line", "color": "#e8842c", "strokeWidth": 2.2},
     "encoding": {
      "x": {"field": "d", "type": "quantitative", "scale": {"domain": [3597.1, 4257], "nice": false, "zero": false}, "axis": {"orient": "bottom", "values": [3620,3640,3660,3680,3720,3740,3760,3780,3820,3840,3860,3880,3920,3940,3960,3980,4020,4040,4060,4080,4120,4140,4160,4180,4220,4240], "gridDash": [2,3], "gridColor": "#444040", "gridWidth": 1, "tickSize": 3, "tickColor": "#999999", "labels": false, "title": null}},
      "y": {"field": "gap", "type": "quantitative", "scale": {"domain": [-0.01655, 0.34755], "nice": false, "zero": false}, "axis": {"orient": "left", "values": [0.05,0.1,0.15,0.25,0.3], "gridDash": [2,3], "gridColor": "#444040", "gridWidth": 1, "tickSize": 3, "tickColor": "#999999", "labels": false, "title": null}}
     }},
    {"data": {"name": "z"}, "mark": {"type": "rule", "color": "#f2d23a", "strokeWidth": 3},
     "encoding": {"y": {"field": "gap", "type": "quantitative", "scale": {"domain": [-0.01655, 0.34755], "nice": false, "zero": false}, "axis": {"orient": "left", "values": [0, 0.2], "format": ".1f", "title": "Gap (s)"}}}},
    {"data": {"name": "a4"}, "transform": [{"calculate": "datum.gap * 0.56", "as": "ty"}],
     "mark": {"type": "rule", "color": "#111111", "strokeWidth": 4, "yOffset": 16, "y2Offset": -11},
     "encoding": {
      "x": {"field": "d", "type": "quantitative", "scale": {"domain": [3597.1, 4257], "nice": false, "zero": false}, "axis": {"orient": "bottom", "values": [3600,3700,3800,3900,4000,4100,4200], "format": "d", "title": "Lap distance (m)", "titlePadding": 8, "titleColor": "#d0d0d0"}},
      "y": {"field": "gap", "type": "quantitative", "scale": {"domain": [-0.01655, 0.34755], "nice": false, "zero": false}, "axis": null},
      "y2": {"field": "ty"}
     }},
    {"data": {"name": "a4"}, "transform": [{"calculate": "datum.gap * 0.56", "as": "ty"}],
     "mark": {"type": "rule", "strokeWidth": 2, "yOffset": 16, "y2Offset": -12},
     "encoding": {
      "x": {"field": "d", "type": "quantitative", "scale": {"domain": [3597.1, 4257], "nice": false, "zero": false}, "axis": null},
      "y": {"field": "gap", "type": "quantitative", "scale": {"domain": [-0.01655, 0.34755], "nice": false, "zero": false}, "axis": null},
      "y2": {"field": "ty"},
      "color": {"condition": {"test": "datum.kind == 'start'", "value": "#f5a234"}, "value": "#a8d8ea"}
     }},
    {"data": {"name": "a4"},
     "mark": {"type": "point", "shape": "M0,-1L0.6,1L-0.6,1Z", "size": 484, "filled": true, "opacity": 1, "stroke": "#111111", "strokeWidth": 1, "yOffset": 12},
     "encoding": {
      "x": {"field": "d", "type": "quantitative", "scale": {"domain": [3597.1, 4257], "nice": false, "zero": false}, "axis": null},
      "y": {"field": "gap", "type": "quantitative", "scale": {"domain": [-0.01655, 0.34755], "nice": false, "zero": false}, "axis": null},
      "color": {"condition": {"test": "datum.kind == 'start'", "value": "#f5a234"}, "value": "#a8d8ea"}
     }},
    {"data": {"name": "a4"},
     "mark": {"type": "point", "shape": "circle", "size": 121, "filled": true, "opacity": 1, "stroke": "#333333", "strokeWidth": 1, "clip": true},
     "encoding": {
      "x": {"field": "d", "type": "quantitative", "scale": {"domain": [3597.1, 4257], "nice": false, "zero": false}, "axis": null},
      "y": {"field": "gap", "type": "quantitative", "scale": {"domain": [-0.01655, 0.34755], "nice": false, "zero": false}, "axis": null},
      "color": {"condition": {"test": "datum.kind == 'start'", "value": "#f5a234"}, "value": "#a8d8ea"}
     }},
    {"data": {"name": "a4"}, "transform": [{"filter": "datum.kind == 'start'"}, {"calculate": "datum.gap * 0.56", "as": "ty"}],
     "mark": {"type": "text", "align": "left", "baseline": "middle", "fontSize": 16, "color": "#dadada"},
     "encoding": {
      "x": {"field": "d", "type": "quantitative", "scale": {"domain": [3597.1, 4257], "nice": false, "zero": false}, "axis": null},
      "y": {"field": "ty", "type": "quantitative", "scale": {"domain": [-0.01655, 0.34755], "nice": false, "zero": false}, "axis": null},
      "text": {"field": "label"}
     }},
    {"data": {"name": "a4"}, "transform": [{"filter": "datum.kind == 'end'"}, {"calculate": "datum.gap * 0.56", "as": "ty"}],
     "mark": {"type": "text", "align": "right", "baseline": "middle", "fontSize": 16, "color": "#dadada"},
     "encoding": {
      "x": {"field": "d", "type": "quantitative", "scale": {"domain": [3597.1, 4257], "nice": false, "zero": false}, "axis": null},
      "y": {"field": "ty", "type": "quantitative", "scale": {"domain": [-0.01655, 0.34755], "nice": false, "zero": false}, "axis": null},
      "text": {"field": "label"}
     }}
   ],
   "resolve": {"axis": {"x": "independent", "y": "independent"}}}
 ], "spacing": 18, "resolve": {"scale": {"color": "independent"}, "legend": {"color": "independent"}}}
], "spacing": 125, "resolve": {"scale": {"color": "independent"}, "legend": {"color": "independent"}}}
]
}
